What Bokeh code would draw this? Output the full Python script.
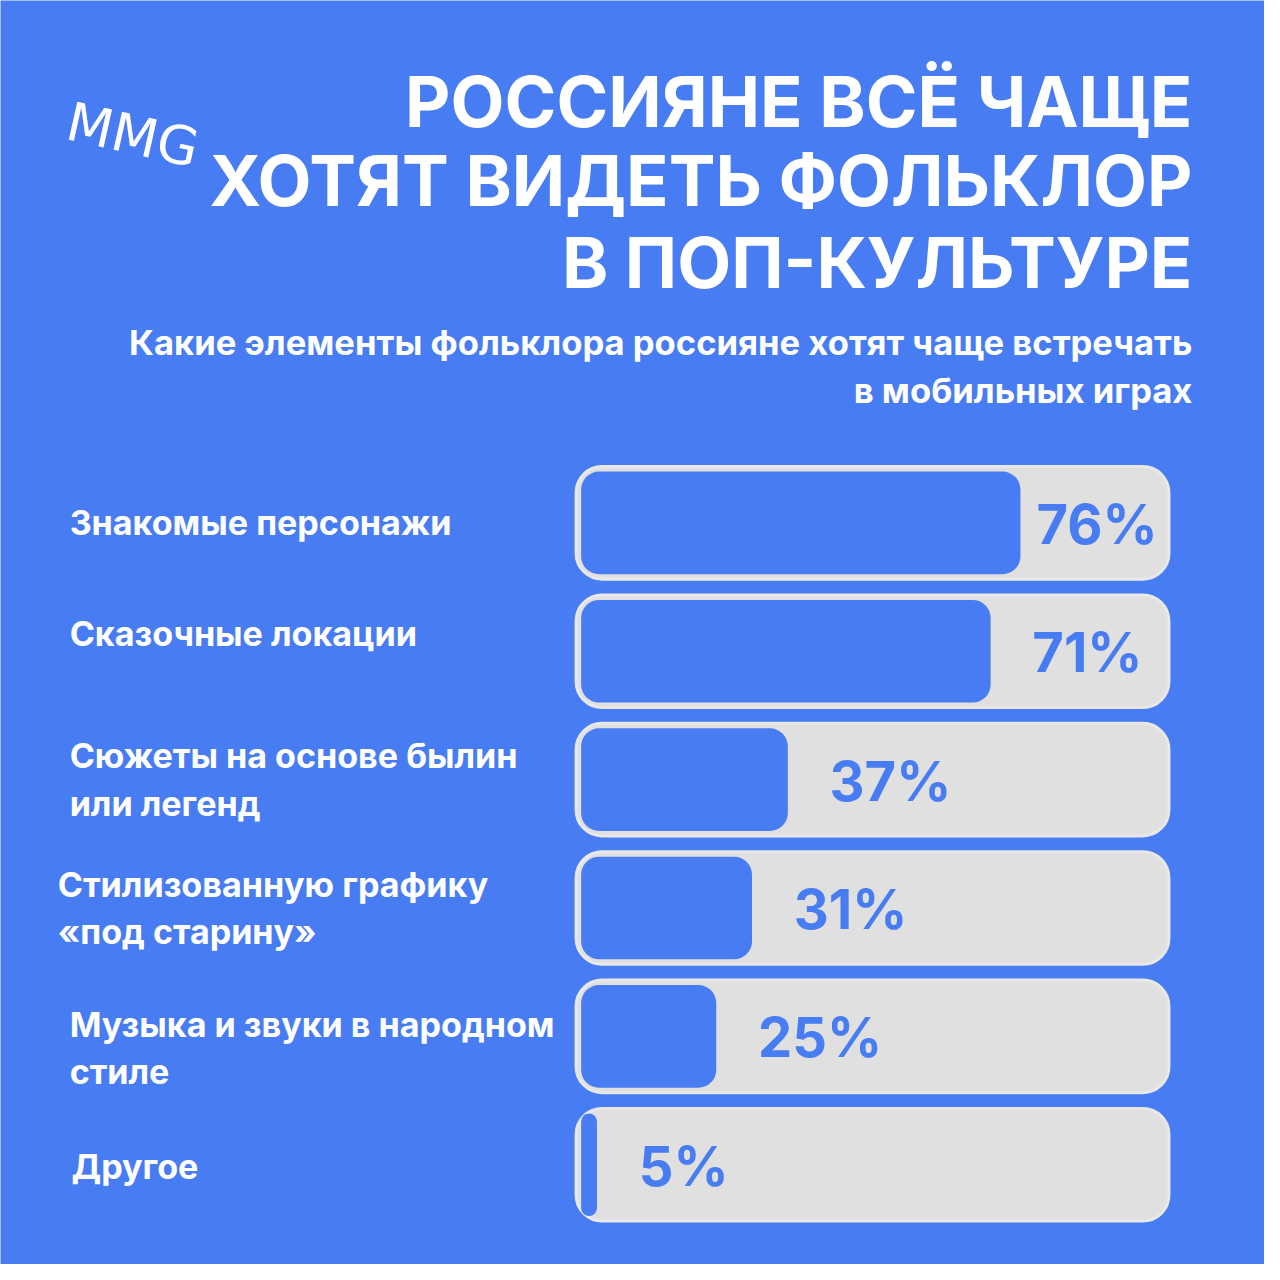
from bokeh.plotting import figure
from bokeh.models import Range1d, ColumnDataSource
from bokeh.core.properties import value
from bokeh.embed import file_html
from bokeh.resources import INLINE
import numpy as np

# ---------------- data ----------------
categories = [
    "Знакомые персонажи",
    "Сказочные локации",
    "Сюжеты на основе былин\nили легенд",
    "Стилизованную графику\n«под старину»",
    "Музыка и звуки в народном\nстиле",
    "Другое",
]
shares = [76, 71, 37, 31, 25, 5]
share_labels = ["76%", "71%", "37%", "31%", "25%", "5%"]

title_lines = ["РОССИЯНЕ ВСЁ ЧАЩЕ", "ХОТЯТ ВИДЕТЬ ФОЛЬКЛОР", "В ПОП-КУЛЬТУРЕ"]
subtitle_lines = ["Какие элементы фольклора россияне хотят чаще встречать",
                  "в мобильных играх"]
logo_text = "MMG"

# ---------------- style / layout ----------------
BLUE = "#477CF3"
TRACK = "#E0E0E0"
TRACK_EDGE = "#E8E8E8"
WHITE = "#FFFFFF"
W = H = 1264          # figure size in screen px
REF = 1280.0          # design canvas units
S = W / REF           # screen px per design unit


def fs(px):
    return f"{px * S:.1f}px"


p = figure(width=W, height=H, output_backend="svg", toolbar_location=None,
           x_range=Range1d(0, REF), y_range=Range1d(REF, 0),
           x_axis_location=None, y_axis_location=None, min_border=0)
p.grid.visible = False
p.outline_line_color = None
p.background_fill_color = BLUE
p.border_fill_color = BLUE

# percent scale and row scale (library ranges)
PX0, PX_PER = 573.8, 6.04          # design px of 0 % and design px per percent
p.extra_x_ranges = {"pct": Range1d(-PX0 / PX_PER, (REF - PX0) / PX_PER)}
ROW0, ROW_STEP = 529.0, 130.0
p.extra_y_ranges = {"row": Range1d((REF - ROW0) / ROW_STEP, -ROW0 / ROW_STEP)}

rows = list(range(len(categories)))
vals = np.array(shares, dtype=float)

src = ColumnDataSource(dict(
    row=rows, val=vals, lab=share_labels,
    lab_x=np.minimum(vals + 7.0, 78.7),
))

# tracks
p.hbar(y="row", height=114 / ROW_STEP, left=1.5, right=100.9, source=src,
       x_range_name="pct", y_range_name="row",
       fill_color=TRACK, line_color=TRACK_EDGE, line_width=3, border_radius=26)
# value bars
p.hbar(y="row", height=104 / ROW_STEP, left=2.35, right="val", source=src,
       x_range_name="pct", y_range_name="row",
       fill_color=BLUE, line_color=None, border_radius=18)
# value labels
p.text(x="lab_x", y="row", text="lab", source=src,
       x_range_name="pct", y_range_name="row",
       text_font=value("Inter"), text_font_style="bold", text_font_size=fs(55),
       text_color=BLUE, text_align="left", text_baseline="middle", y_offset=1)

# category labels (split into lines)
label_shift = [0, -18, 0, 0, 12, 2]
label_x = [70, 70, 70, 58, 70, 72]
lx, ly, lt, loff = [], [], [], []
for i, c in enumerate(categories):
    parts = c.split("\n")
    n = len(parts)
    for k, t in enumerate(parts):
        lx.append(label_x[i])
        ly.append(i)
        lt.append(t)
        loff.append(((k - (n - 1) / 2) * 48 + label_shift[i]) * S)
p.text(x="x", y="y", text="t", y_offset="o",
       source=ColumnDataSource(dict(x=lx, y=ly, t=lt, o=loff)),
       y_range_name="row",
       text_font=value("Inter"), text_font_style="bold", text_font_size=fs(34.5),
       text_color=WHITE, text_align="left", text_baseline="middle")

# title
p.text(x=[1207] * 3, y=[102, 182, 265], text=title_lines,
       text_font=value("Inter"), text_font_style="bold", text_font_size=fs(71),
       text_color=WHITE, text_align="right", text_baseline="middle")
# subtitle
p.text(x=[1207] * 2, y=[346, 394], text=subtitle_lines,
       text_font=value("Inter"), text_font_style="bold", text_font_size=fs(35),
       text_color=WHITE, text_align="right", text_baseline="middle")
# logo
p.text(x=[68], y=[122], text=[logo_text], angle=-0.22,
       text_font=value("DejaVu Sans"), text_font_size=fs(54),
       text_color=WHITE, text_align="left", text_baseline="middle")

open("out.html", "w").write(file_html(p, INLINE))
